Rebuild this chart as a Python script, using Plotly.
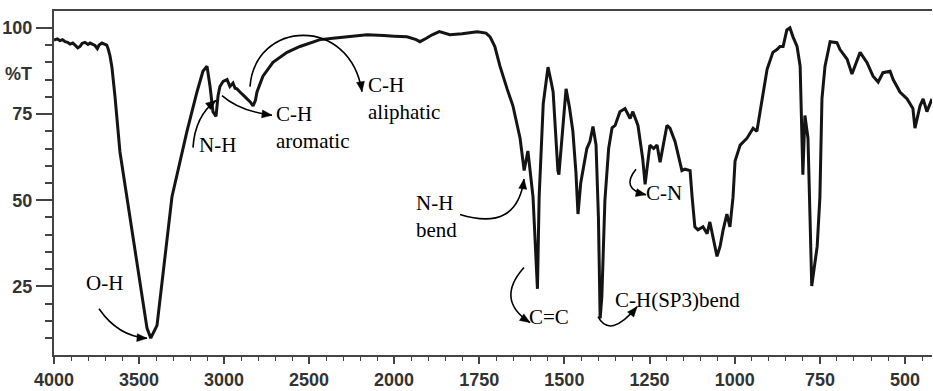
import plotly.graph_objects as go

# ---------------- data ----------------
wavenumber = [4000, 3980, 3965, 3950, 3935, 3920, 3906, 3890, 3876, 3860, 3847, 3835, 3818,
              3800, 3788, 3770, 3759, 3745, 3735, 3718, 3700, 3690, 3682, 3671, 3659, 3641,
              3612, 3571, 3500, 3453, 3431, 3415, 3394, 3306, 3218, 3159, 3124, 3100, 3082,
              3065, 3047, 3035, 3024, 3005, 2982, 2965, 2947, 2935, 2924, 2906, 2890, 2876,
              2860, 2847, 2829, 2815, 2806, 2771, 2712, 2629, 2553, 2435, 2359, 2250, 2159,
              2060, 2000,
              1962, 1935, 1924, 1905, 1888, 1867, 1836, 1800, 1756, 1730, 1718, 1704, 1689,
              1668, 1651, 1630, 1618, 1607, 1601, 1592, 1579, 1574, 1562, 1548, 1538, 1533,
              1519, 1516, 1495, 1485, 1475, 1466, 1460, 1452, 1434, 1425, 1416, 1407, 1400,
              1395, 1390, 1381, 1370, 1360, 1351, 1337, 1322, 1307, 1299, 1284, 1270, 1263,
              1249, 1238, 1228, 1219, 1199, 1190, 1175, 1155, 1146, 1131, 1125, 1117, 1108,
              1093, 1081, 1073, 1052, 1043, 1034, 1023, 1014, 1005, 999, 984, 964, 946, 935,
              926, 905, 888, 876, 867, 858, 847, 838, 829, 817, 808, 802, 800, 794, 788, 785,
              779, 774, 758, 750, 744, 735, 720, 700, 691, 670, 656, 632, 612, 594, 579, 565,
              544, 535, 515, 494, 477, 471, 456, 447, 436, 421]
transmittance = [96.5, 96.8, 96.3, 96.6, 96.0, 95.8, 95.3, 95.6, 95.0, 94.2, 94.6, 95.5, 95.8,
                 95.2, 95.6, 95.3, 94.9, 94.0, 95.0, 95.6, 95.3, 95.0, 94.0, 92.0, 88.5, 80.0,
                 64.0, 51.0, 29.0, 12.9, 10.0, 11.5, 13.7, 51.0, 70.0, 81.4, 87.4, 88.9, 83.0,
                 75.7, 74.3, 80.3, 83.0, 84.5, 85.0, 83.0, 84.0, 82.5, 82.3, 81.4, 80.5, 80.0,
                 79.2, 78.6, 77.4, 79.0, 81.4, 86.0, 90.0, 92.9, 94.6, 96.6, 97.0, 97.6, 98.0,
                 97.8, 97.6,
                 97.4, 96.6, 96.0, 97.0, 98.0, 98.9, 98.0, 98.3, 98.9, 98.5, 97.4, 94.6, 88.9,
                 82.3, 77.4, 68.0, 58.6, 64.3, 58.6, 51.0, 24.3, 51.0, 78.0, 88.6, 84.0, 81.4,
                 58.6, 57.4, 82.3, 77.0, 70.0, 58.0, 46.0, 55.0, 65.0, 67.0, 71.4, 66.0, 45.0,
                 15.7, 22.0, 50.0, 65.0, 71.0, 71.7, 75.7, 76.6, 73.7, 75.7, 71.7, 62.0, 54.6,
                 66.0, 65.0, 66.0, 61.0, 71.7, 70.9, 67.0, 58.6, 59.0, 58.6, 50.9, 42.3, 41.4,
                 42.3, 40.3, 43.7, 33.7, 36.6, 41.4, 46.0, 42.3, 50.9, 61.4, 66.0, 68.0, 70.9, 70.0,
                 75.7, 88.0, 92.9, 93.7, 94.6, 94.6, 99.4, 100.0, 97.4, 94.6, 88.9, 70.0, 57.4, 74.6,
                 70.9, 68.0, 45.0, 25.1, 36.6, 50.9, 79.4, 88.9, 96.0, 95.7, 93.7, 90.9, 86.6, 92.9,
                 90.0, 86.0, 84.3, 87.0, 87.4, 85.0, 81.4, 79.4, 76.6, 70.9, 77.4, 79.4, 75.7, 79.4]

x_ticks_high = [4000, 3500, 3000, 2500]
x_ticks_low = [2000, 1750, 1500, 1250, 1000, 750, 500]
y_ticks = [25, 50, 75, 100]

labels = [  # (text, left px, centre px)
    ("C-H<br>aliphatic", 366, 100),
    ("C-H<br>aromatic", 274, 130),
    ("N-H", 197, 147),
    ("N-H<br>bend", 414, 220),
    ("O-H", 84, 288),
    ("C=C", 527, 322),
    ("C-H(SP3)bend", 613, 305),
    ("C-N", 644, 196),
]

# ---------------- layout geometry ----------------
W_FIG, H_FIG = 933, 391
L, R, T, B = 54, 932, 11, 361
PW, PH = R - L, B - T
split = (394 - L) / PW


def fx(p):
    return (p - L) / PW


def fy(p):
    return (B - p) / PH


# curved arrows drawn in pixel space (start, controls..., end)
arrows = [
    [(99, 314), (118, 342), (147, 344)],
    [(193, 150), (195, 118), (216, 102)],
    [(222, 97), (240, 113), (272, 117)],
    [(250, 88), (255, 20), (350, 15), (362, 93)],
    [(460, 218), (517, 236), (524, 182)],
    [(524, 272), (495, 305), (530, 328)],
    [(598, 322), (610, 345), (637, 312)],
    [(636, 172), (620, 192), (646, 198)],
]

hi_x = [w for w in wavenumber if w >= 2000]
hi_y = [t for w, t in zip(wavenumber, transmittance) if w >= 2000]
lo_x = [w for w in wavenumber if w <= 2000]
lo_y = [t for w, t in zip(wavenumber, transmittance) if w <= 2000]

line_style = dict(color="#141414", width=3)
fig = go.Figure()
fig.add_trace(go.Scatter(x=hi_x, y=hi_y, mode="lines", line=line_style,
                         xaxis="x", yaxis="y", showlegend=False, hoverinfo="skip"))
fig.add_trace(go.Scatter(x=lo_x, y=lo_y, mode="lines", line=line_style,
                         xaxis="x2", yaxis="y", showlegend=False, hoverinfo="skip"))

tick_font = dict(family="Liberation Sans, Arial, sans-serif", size=18, color="#333333",
                 weight="bold")
axis_common = dict(showline=True, linecolor="#444444", linewidth=2, mirror=True,
                   ticks="outside", ticklen=7, tickwidth=1.6, tickcolor="#444444",
                   showgrid=False, zeroline=False, tickfont=tick_font, anchor="y")

shapes = []
for pts in arrows:
    P = [(fx(a), fy(b)) for a, b in pts]
    if len(P) == 3:
        d = "M {},{} Q {},{} {},{}".format(*[c for p in P for c in p])
    else:
        d = "M {},{} C {},{} {},{} {},{}".format(*[c for p in P for c in p])
    shapes.append(dict(type="path", xref="paper", yref="paper", path=d,
                       line=dict(color="black", width=1.6)))
    # arrow head aligned with the end tangent (computed in pixel space)
    (cx, cy), (ex, ey) = pts[-2], pts[-1]
    dx, dy = ex - cx, ey - cy
    n = (dx * dx + dy * dy) ** 0.5
    ux, uy = dx / n, dy / n
    hl, hw = 10, 4
    bx, by = ex - ux * hl, ey - uy * hl
    p1 = (bx - uy * hw, by + ux * hw)
    p2 = (bx + uy * hw, by - ux * hw)
    tri = "M {},{} L {},{} L {},{} Z".format(fx(ex), fy(ey), fx(p1[0]), fy(p1[1]),
                                             fx(p2[0]), fy(p2[1]))
    shapes.append(dict(type="path", xref="paper", yref="paper", path=tri,
                       fillcolor="black", line=dict(color="black", width=0.5)))

annotations = []
for text, lx, cy in labels:
    annotations.append(dict(text=text, x=fx(lx), y=fy(cy), xref="paper", yref="paper",
                            xanchor="left", yanchor="middle", align="left", showarrow=False,
                            font=dict(family="Liberation Serif, Times New Roman, serif",
                                      size=21, color="black")))
annotations.append(dict(text="%T", x=fx(34), y=fy(75), xref="paper", yref="paper",
                        xanchor="right", yanchor="middle", showarrow=False, font=tick_font))

fig.update_layout(
    width=W_FIG, height=H_FIG,
    margin=dict(l=L, r=W_FIG - R, t=T, b=H_FIG - B, pad=0),
    paper_bgcolor="white", plot_bgcolor="white",
    xaxis=dict(domain=[0, split], range=[4000, 2000], tickvals=x_ticks_high,
               minor=dict(dtick=100, tick0=0, ticks="outside", ticklen=4, tickwidth=1.4,
                          tickcolor="#444444"), **axis_common),
    xaxis2=dict(domain=[split, 1], range=[2000, 421], tickvals=x_ticks_low,
                minor=dict(dtick=50, tick0=0, ticks="outside", ticklen=4, tickwidth=1.4,
                           tickcolor="#444444"), **axis_common),
    yaxis=dict(range=[5.1, 104.9], tickvals=y_ticks, anchor="x", showline=True,
               linecolor="#444444", linewidth=2, ticks="outside", ticklen=16, tickwidth=1.8,
               tickcolor="#444444", showgrid=False, zeroline=False, tickfont=tick_font,
               minor=dict(dtick=5, tick0=0, ticks="outside", ticklen=7, tickwidth=1.6,
                          tickcolor="#444444")),
    shapes=shapes, annotations=annotations,
)

fig.write_html("out.html")
